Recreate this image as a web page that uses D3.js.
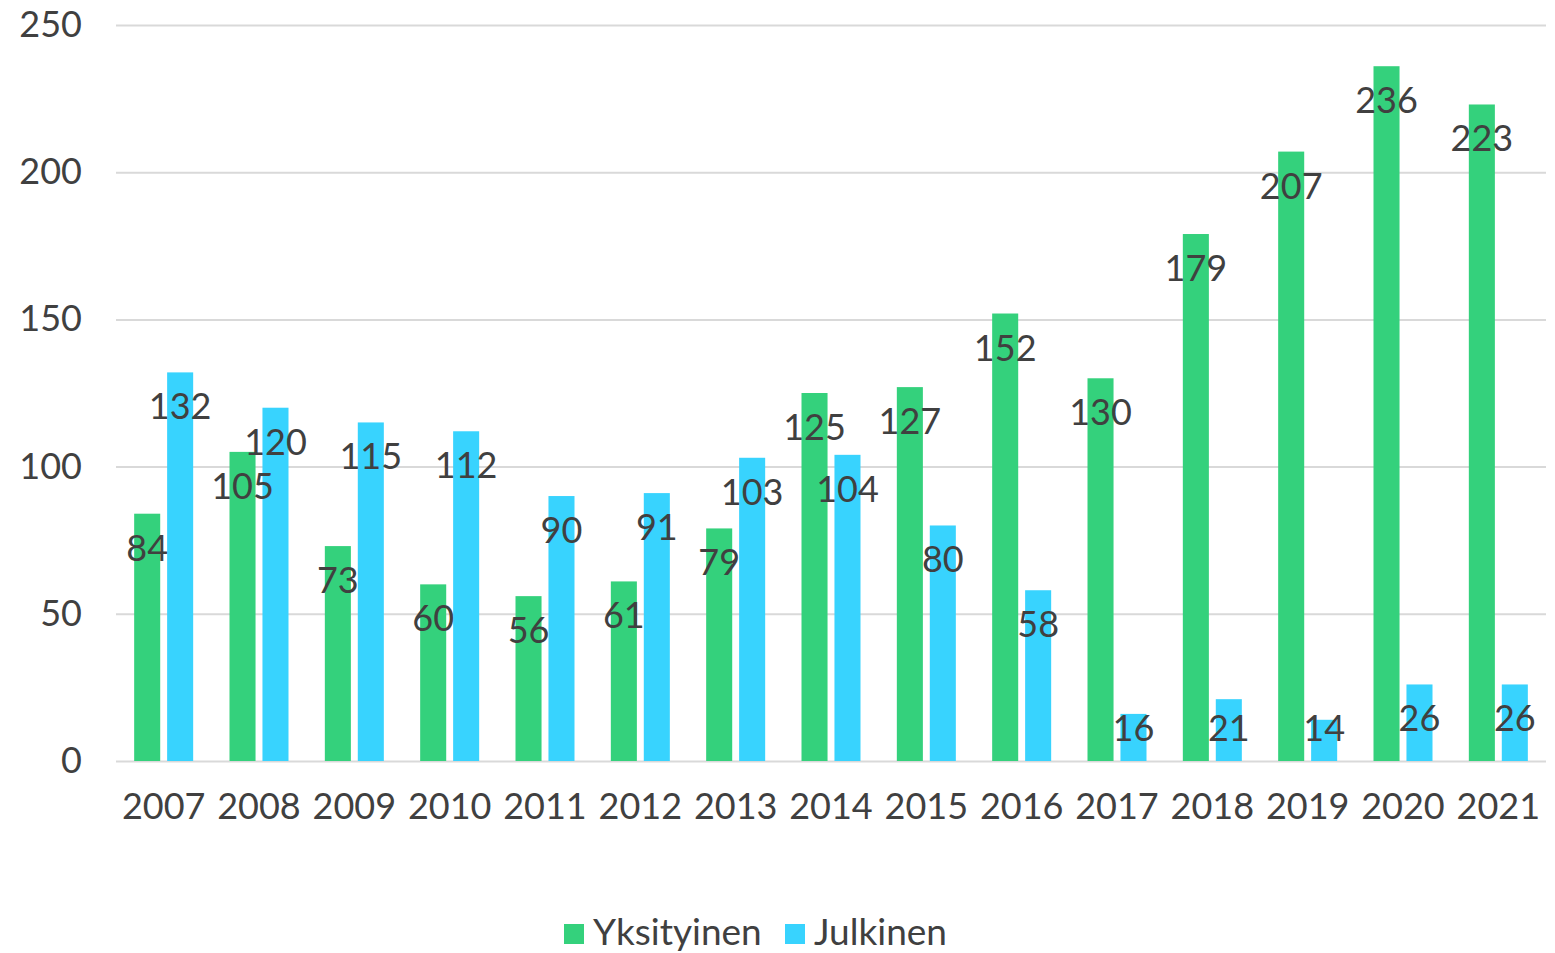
<!DOCTYPE html>
<html>
<head>
<meta charset="utf-8">
<script src="https://cdn.jsdelivr.net/npm/d3@7"></script>
<style>
  html, body { margin: 0; padding: 0; background: #fff; }
  svg text { font-family: "Lato", "Noto Sans", sans-serif; fill: #404040; }
</style>
</head>
<body>
<svg id="chart" width="1555" height="953"></svg>
<script>
const years = ['2007', '2008', '2009', '2010', '2011', '2012', '2013', '2014', '2015', '2016', '2017', '2018', '2019', '2020', '2021'];
const seriesNames = ['Yksityinen', 'Julkinen'];
const yksityinen = [84, 105, 73, 60, 56, 61, 79, 125, 127, 152, 130, 179, 207, 236, 223];
const julkinen = [132, 120, 115, 112, 90, 91, 103, 104, 80, 58, 16, 21, 14, 26, 26];
const yTicks = [0, 50, 100, 150, 200, 250];
const colors = ['#34D17C', '#38D3FE'];

const svg = d3.select('#chart');
const plot = { left: 116, right: 1546, top: 25, bottom: 761 };

const x0 = d3.scaleBand().domain(years).range([plot.left, plot.right]);
const groupWidth = 59;
const x1 = d3.scaleBand().domain(seriesNames).range([0, groupWidth]).paddingInner(0.21);
const y = d3.scaleLinear().domain([0, 250]).range([plot.bottom, plot.top]);
const color = d3.scaleOrdinal().domain(seriesNames).range(colors);

// gridlines + y labels
const yAxis = svg.append('g')
  .attr('transform', `translate(${plot.left},0)`)
  .call(d3.axisLeft(y).tickValues(yTicks).tickSize(-(plot.right - plot.left)).tickPadding(34));
yAxis.select('.domain').remove();
yAxis.selectAll('line').attr('stroke', '#d9d9d9').attr('stroke-width', 2);
yAxis.selectAll('text')
  .attr('font-size', 36)
  .attr('dy', '0.32em')
  .style('font-family', 'Lato, "Noto Sans", sans-serif')
  .attr('fill', '#404040');

// x labels
const xAxis = svg.append('g')
  .attr('transform', `translate(0,${plot.bottom})`)
  .call(d3.axisBottom(x0).tickSize(0).tickPadding(32));
xAxis.select('.domain').remove();
xAxis.selectAll('text')
  .attr('font-size', 36)
  .style('font-family', 'Lato, "Noto Sans", sans-serif')
  .attr('fill', '#404040');

const rows = years.map((yr, i) => ({
  year: yr,
  values: [
    { key: seriesNames[0], value: yksityinen[i] },
    { key: seriesNames[1], value: julkinen[i] }
  ]
}));

const groups = svg.append('g').selectAll('g')
  .data(rows)
  .join('g')
  .attr('transform', d => `translate(${x0(d.year) + (x0.bandwidth() - groupWidth) / 2},0)`);

groups.selectAll('rect')
  .data(d => d.values)
  .join('rect')
  .attr('x', d => x1(d.key))
  .attr('width', x1.bandwidth())
  .attr('y', d => y(d.value))
  .attr('height', d => y(0) - y(d.value))
  .attr('fill', d => color(d.key));

groups.selectAll('text')
  .data(d => d.values)
  .join('text')
  .attr('x', d => x1(d.key) + x1.bandwidth() / 2)
  .attr('y', d => Math.min(y(d.value) + 47, y(0) - 20))
  .attr('text-anchor', 'middle')
  .attr('font-size', 36)
  .text(d => d.value);

// legend
const legend = svg.append('g').attr('transform', 'translate(564,924)');
const legendX = [0, 221];
seriesNames.forEach((name, i) => {
  const g = legend.append('g').attr('transform', `translate(${legendX[i]},0)`);
  g.append('rect').attr('width', 20).attr('height', 20).attr('fill', colors[i]);
  g.append('text').attr('x', 29).attr('y', 21).attr('font-size', 37).text(name);
});
</script>
</body>
</html>
